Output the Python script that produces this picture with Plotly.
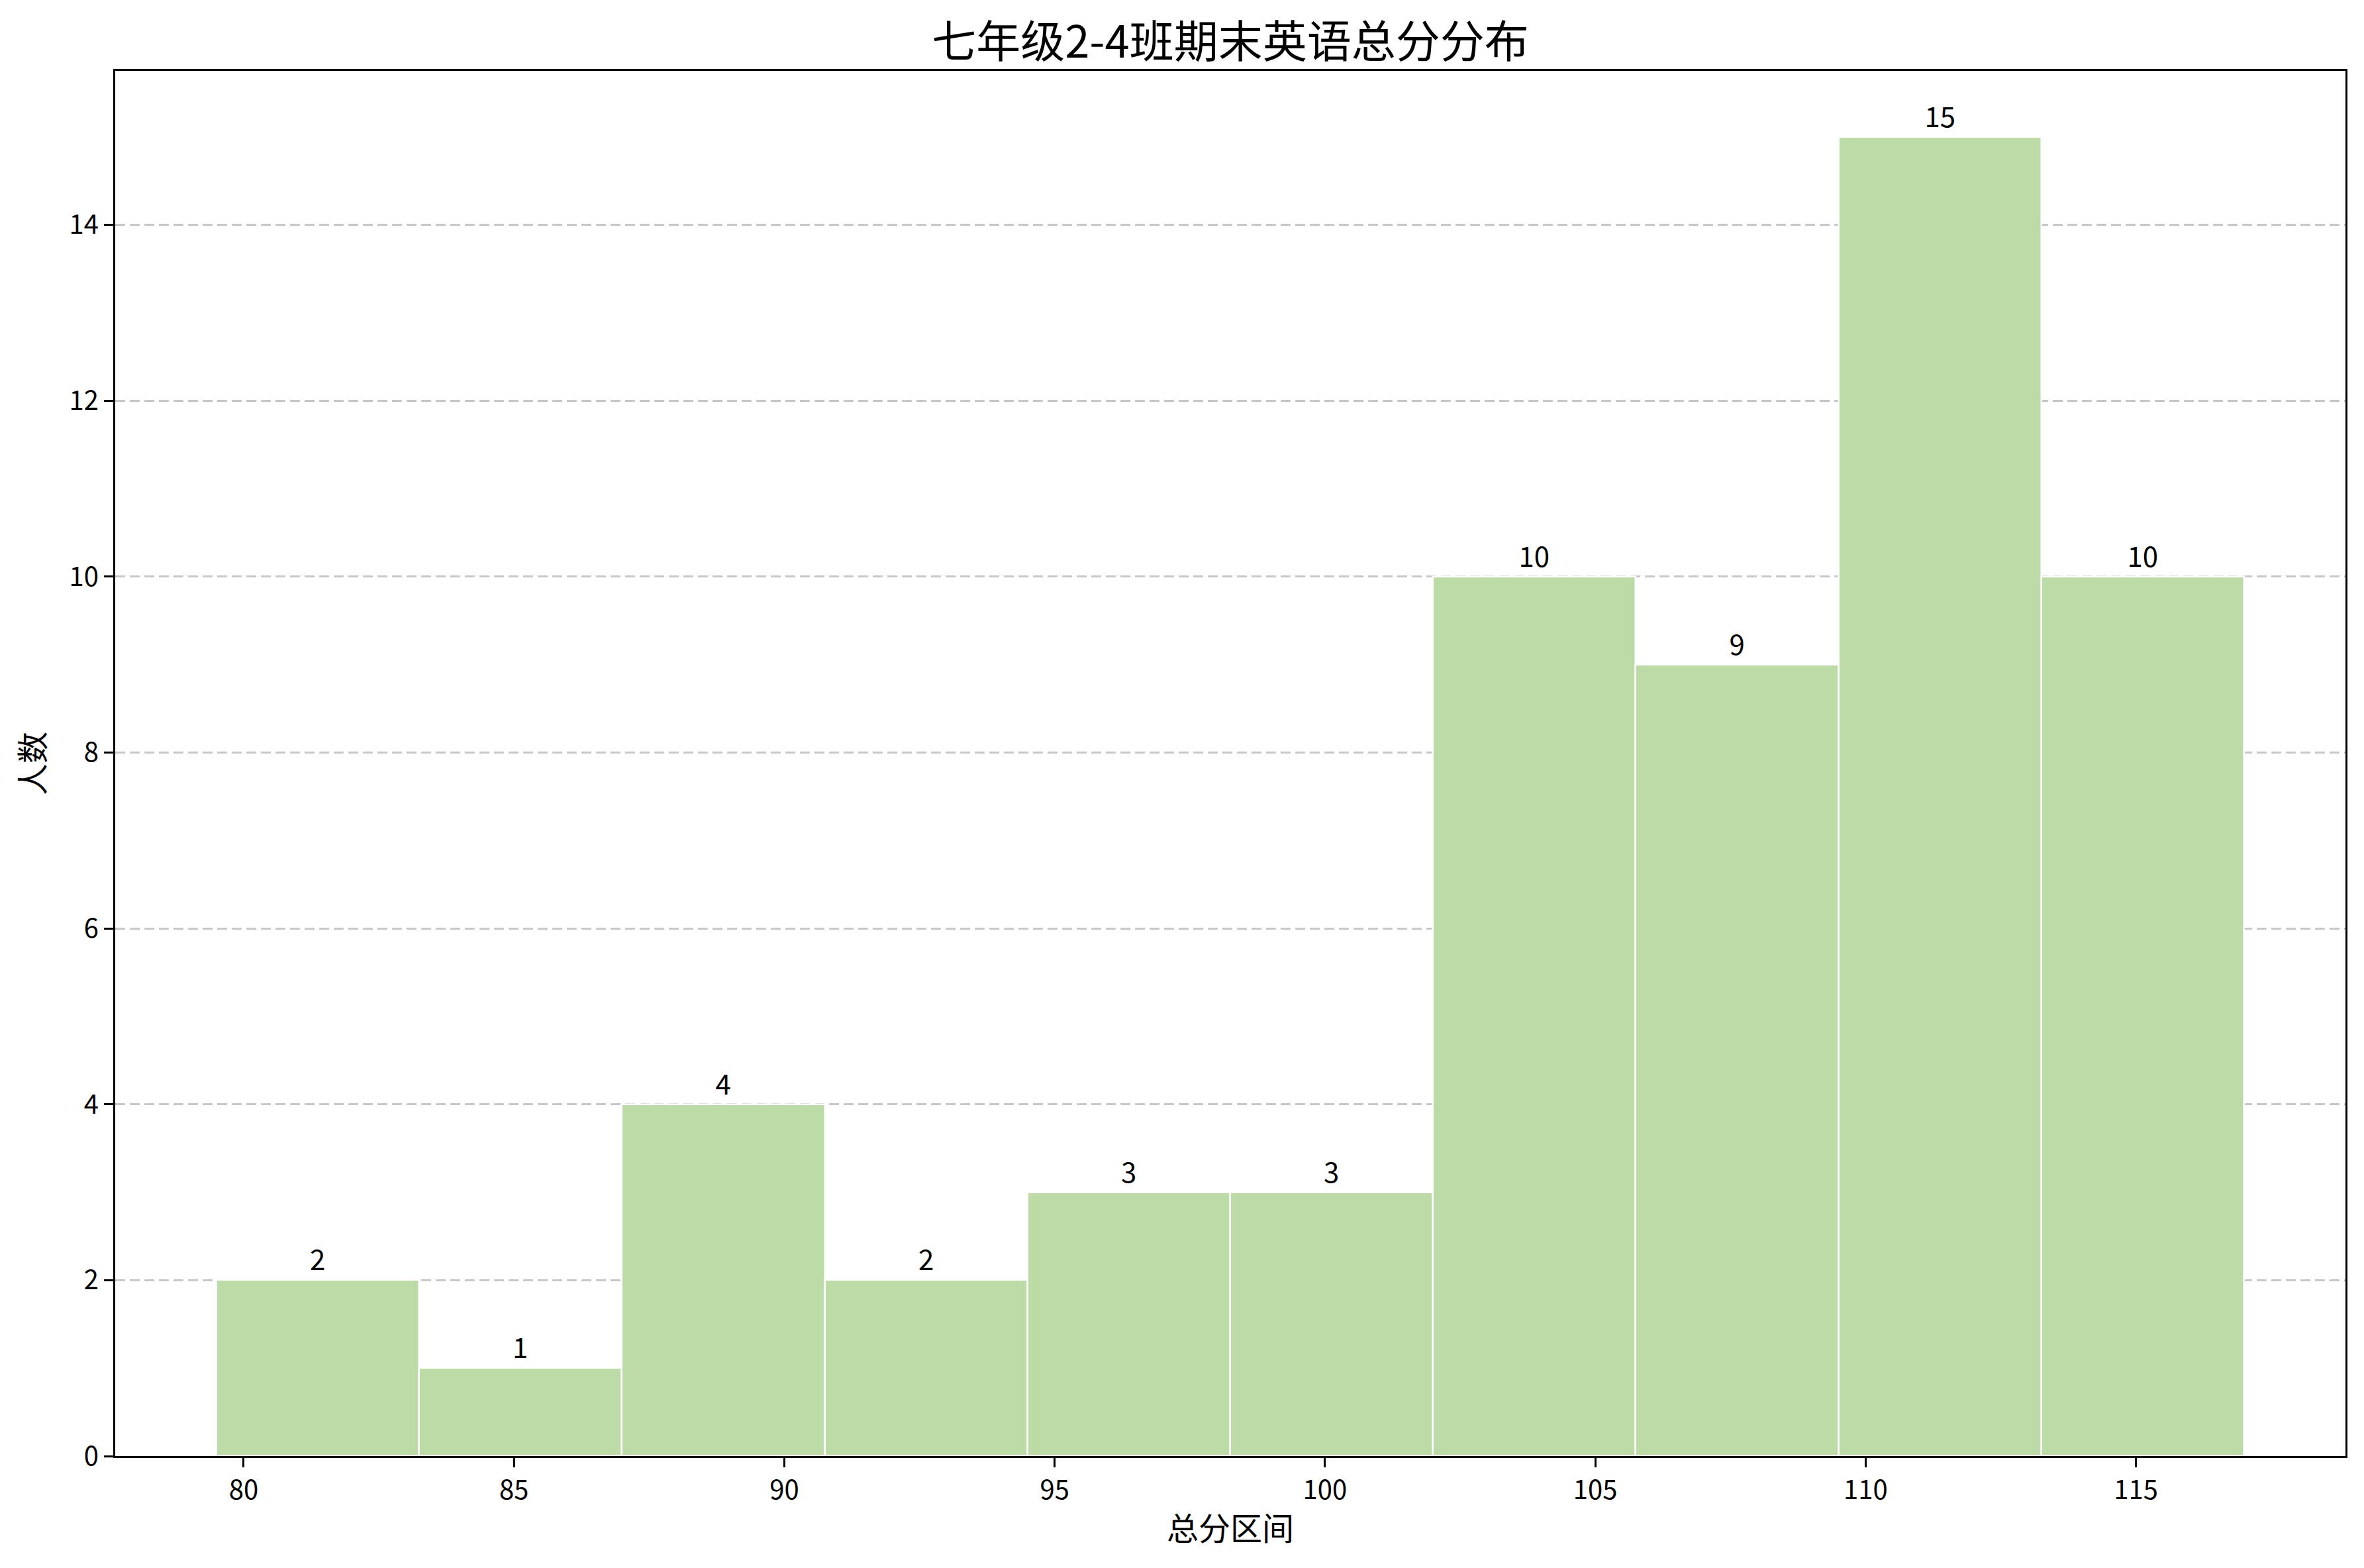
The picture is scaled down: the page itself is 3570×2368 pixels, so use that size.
import plotly.graph_objects as go

# Data
bin_edges = [79.5, 83.25, 87.0, 90.75, 94.5, 98.25, 102.0, 105.75, 109.5, 113.25, 117.0]
counts = [2, 1, 4, 2, 3, 3, 10, 9, 15, 10]
x_ticks = [80, 85, 90, 95, 100, 105, 110, 115]
y_ticks = [0, 2, 4, 6, 8, 10, 12, 14]

title_text = "七年级2-4班期末英语总分分布"
x_title = "总分区间"
y_title = "人数"

centers = [(a + b) / 2 for a, b in zip(bin_edges[:-1], bin_edges[1:])]
widths = [b - a for a, b in zip(bin_edges[:-1], bin_edges[1:])]

FONT = "Noto Sans CJK SC, Noto Sans, sans-serif"
# page has an 8px body margin, so the figure is sized to fit inside the window
W, H = 3554, 2352
L, R, T, B = 166, 20, 99, 161

fig = go.Figure()
fig.add_trace(go.Bar(
    x=centers, y=counts, width=widths,
    marker=dict(color="rgb(189,219,166)", line=dict(color="white", width=2.5)),
    text=[str(c) for c in counts], textposition="outside",
    textfont=dict(family=FONT, size=42, color="black"),
    cliponaxis=False,
))

xmin = bin_edges[0] - 0.05 * (bin_edges[-1] - bin_edges[0])
xmax = bin_edges[-1] + 0.05 * (bin_edges[-1] - bin_edges[0])
ymax = max(counts) * 1.05

fig.update_layout(
    width=W, height=H,
    margin=dict(l=L, r=R, t=T, b=B, autoexpand=False),
    paper_bgcolor="white", plot_bgcolor="white",
    showlegend=False,
    font=dict(family=FONT, color="black"),
    title=dict(text=title_text, x=(L + (W - R)) / 2 / W, xref="container",
               xanchor="center", y=1 - 56 / H, yanchor="middle",
               font=dict(family=FONT, size=67, color="black")),
    bargap=0,
)
fig.update_xaxes(
    range=[xmin, xmax], tickvals=x_ticks, ticktext=[str(v) for v in x_ticks],
    showgrid=False, zeroline=False,
    showline=True, linecolor="black", linewidth=3.3, mirror=True,
    ticks="outside", ticklen=14, tickwidth=3.3, tickcolor="black",
    tickfont=dict(family=FONT, size=40, color="black"),
    title=dict(text=x_title, font=dict(family=FONT, size=48, color="black"), standoff=18),
)
fig.update_yaxes(
    range=[0, ymax], tickvals=y_ticks, ticktext=[str(v) for v in y_ticks],
    showgrid=True, gridcolor="rgba(176,176,176,0.7)", gridwidth=3, griddash="15px,7px",
    zeroline=False, layer="above traces",
    showline=True, linecolor="black", linewidth=3.3, mirror=True,
    ticks="outside", ticklen=14, tickwidth=3.3, tickcolor="black",
    tickfont=dict(family=FONT, size=40, color="black"),
    title=dict(text=y_title, font=dict(family=FONT, size=48, color="black"), standoff=22),
)

fig.write_html("out.html")
